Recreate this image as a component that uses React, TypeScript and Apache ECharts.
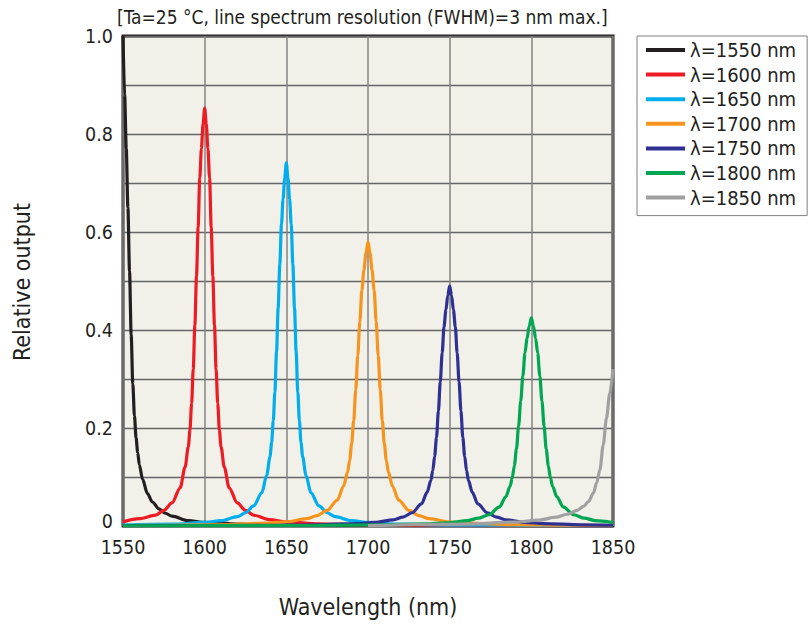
import React, { useEffect, useRef } from "react";
import * as echarts from "echarts";

const FONT = "'DejaVu Sans Condensed', 'DejaVu Sans', sans-serif";

const seriesNames = ["λ=1550 nm", "λ=1600 nm", "λ=1650 nm", "λ=1700 nm", "λ=1750 nm", "λ=1800 nm", "λ=1850 nm"];
const seriesColors = ["#231f20", "#ed1c24", "#00aeef", "#f7941d", "#2e3192", "#00a651", "#a0a0a0"];

const xTicks = [1550, 1600, 1650, 1700, 1750, 1800, 1850];

const line1550: [number, number][] = [
  [1550, 1.0], [1551, 0.88], [1552, 0.77], [1553, 0.65], [1554, 0.52], [1555, 0.39], [1556, 0.29],
  [1557, 0.225], [1558, 0.18], [1559, 0.15], [1560, 0.125], [1562, 0.095], [1565, 0.066], [1568, 0.049],
  [1572, 0.035], [1576, 0.026], [1580, 0.02], [1590, 0.011], [1600, 0.0075], [1620, 0.004], [1650, 0.002],
  [1700, 0.001], [1850, 0.0004],
];

const line1600: [number, number][] = [
  [1550, 0.0085], [1560, 0.015], [1570, 0.022], [1575, 0.032], [1580, 0.047], [1585, 0.078], [1588, 0.12],
  [1590, 0.162], [1591, 0.196], [1592, 0.25], [1593, 0.32], [1594, 0.41], [1595, 0.51], [1596, 0.61],
  [1597, 0.71], [1598, 0.77], [1599, 0.82], [1600, 0.853], [1601, 0.82], [1602, 0.77], [1603, 0.71],
  [1604, 0.61], [1605, 0.51], [1606, 0.41], [1607, 0.32], [1608, 0.25], [1609, 0.196], [1610, 0.162],
  [1612, 0.12], [1615, 0.078], [1620, 0.047], [1625, 0.032], [1630, 0.022], [1640, 0.013], [1650, 0.0085],
  [1670, 0.0043], [1700, 0.0021], [1750, 0.001], [1850, 0.0005],
];

const line1650: [number, number][] = [
  [1550, 0.0019], [1580, 0.0037], [1600, 0.0074], [1610, 0.011], [1620, 0.019], [1625, 0.027], [1630, 0.041],
  [1635, 0.068], [1638, 0.104], [1640, 0.141], [1641, 0.17], [1642, 0.215], [1643, 0.274], [1644, 0.356],
  [1645, 0.445], [1646, 0.534], [1647, 0.615], [1648, 0.667], [1649, 0.71], [1650, 0.741], [1651, 0.71],
  [1652, 0.667], [1653, 0.615], [1654, 0.534], [1655, 0.445], [1656, 0.356], [1657, 0.274], [1658, 0.215],
  [1659, 0.17], [1660, 0.141], [1662, 0.104], [1665, 0.068], [1670, 0.041], [1675, 0.027], [1680, 0.019],
  [1690, 0.011], [1700, 0.0074], [1720, 0.0037], [1750, 0.0019], [1850, 0.0005],
];

const line1700: [number, number][] = [
  [1550, 0.001], [1575, 0.0015], [1612.5, 0.0029], [1637.5, 0.0058], [1650, 0.0087], [1662.5, 0.015],
  [1668.75, 0.021], [1675, 0.032], [1681.25, 0.053], [1685, 0.081], [1687.5, 0.11], [1688.75, 0.133],
  [1690, 0.168], [1691.25, 0.215], [1692.5, 0.278], [1693.75, 0.348], [1695, 0.418], [1696.25, 0.481],
  [1697.5, 0.522], [1698.75, 0.557], [1700, 0.58], [1701.25, 0.557], [1702.5, 0.522], [1703.75, 0.481],
  [1705, 0.418], [1706.25, 0.348], [1707.5, 0.278], [1708.75, 0.215], [1710, 0.168], [1711.25, 0.133],
  [1712.5, 0.11], [1715, 0.081], [1718.75, 0.053], [1725, 0.032], [1731.25, 0.021], [1737.5, 0.015],
  [1750, 0.0087], [1762.5, 0.0058], [1787.5, 0.0029], [1825, 0.0015], [1850, 0.001],
];

const line1750: [number, number][] = [
  [1550, 0.0006], [1635, 0.0012], [1669.5, 0.0025], [1692.5, 0.0049], [1704, 0.0074], [1715.5, 0.0127],
  [1721.25, 0.018], [1727, 0.027], [1732.75, 0.045], [1736.2, 0.069], [1738.5, 0.093], [1739.65, 0.113],
  [1740.8, 0.142], [1741.95, 0.181], [1743.1, 0.235], [1744.25, 0.294], [1745.4, 0.353], [1746.55, 0.407],
  [1747.7, 0.441], [1748.85, 0.47], [1750, 0.49], [1751.15, 0.47], [1752.3, 0.441], [1753.45, 0.407],
  [1754.6, 0.353], [1755.75, 0.294], [1756.9, 0.235], [1758.05, 0.181], [1759.2, 0.142], [1760.35, 0.113],
  [1761.5, 0.093], [1763.8, 0.069], [1767.25, 0.045], [1773, 0.027], [1778.75, 0.018], [1784.5, 0.0127],
  [1796, 0.0074], [1807.5, 0.0049], [1830.5, 0.0025], [1850, 0.0015],
];

const line1800: [number, number][] = [
  [1550, 0.0004], [1670, 0.0011], [1709, 0.0021], [1735, 0.0043], [1748, 0.0064], [1761, 0.011],
  [1767.5, 0.016], [1774, 0.023], [1780.5, 0.039], [1784.4, 0.06], [1787, 0.081], [1788.3, 0.098],
  [1789.6, 0.123], [1790.9, 0.157], [1792.2, 0.204], [1793.5, 0.255], [1794.8, 0.306], [1796.1, 0.353],
  [1797.4, 0.383], [1798.7, 0.408], [1800, 0.425], [1801.3, 0.408], [1802.6, 0.383], [1803.9, 0.353],
  [1805.2, 0.306], [1806.5, 0.255], [1807.8, 0.204], [1809.1, 0.157], [1810.4, 0.123], [1811.7, 0.098],
  [1813, 0.081], [1815.6, 0.06], [1819.5, 0.039], [1826, 0.023], [1832.5, 0.016], [1839, 0.011], [1850, 0.007],
];

const line1850: [number, number][] = [
  [1700, 0.001], [1760, 0.004], [1790, 0.008], [1805, 0.012], [1815, 0.018], [1822, 0.024], [1828, 0.032],
  [1832, 0.04], [1835, 0.05], [1838, 0.067], [1840, 0.088], [1842, 0.115], [1844, 0.165], [1846, 0.22],
  [1848, 0.27], [1850, 0.32],
];

const allLines = [line1550, line1600, line1650, line1700, line1750, line1800, line1850];

const titleText = "[Ta=25 °C, line spectrum resolution (FWHM)=3 nm max.]";
const xAxisTitle = "Wavelength (nm)";
const yAxisTitle = "Relative output";

export default function App() {
  const ref = useRef<HTMLDivElement>(null);
  useEffect(() => {
    document.body.style.margin = "0";
    if (!ref.current) return;
    const chart = echarts.init(ref.current, undefined, { renderer: "svg" });
    chart.setOption({
      animation: false,
      backgroundColor: "#ffffff",
      textStyle: { fontFamily: FONT },
      title: {
        text: titleText,
        left: 117,
        top: 7,
        padding: 0,
        textStyle: { fontFamily: FONT, fontSize: 19, fontWeight: "normal", color: "#231f20" },
      },
      legend: {
        orient: "vertical",
        left: 637,
        top: 36,
        padding: [4, 11, 8, 9],
        itemWidth: 39,
        itemHeight: 4,
        itemGap: 4.6,
        itemTextGap: 5,
        icon: "rect",
        backgroundColor: "#ffffff",
        borderColor: "#808080",
        borderWidth: 1,
        borderRadius: 0,
        data: seriesNames,
        textStyle: { fontFamily: FONT, fontSize: 20, color: "#231f20", lineHeight: 20 },
      },
      grid: {
        left: 123,
        top: 36,
        width: 490,
        height: 490,
        show: true,
        backgroundColor: "#f1f0e9",
        borderColor: "#231f20",
        borderWidth: 3,
      },
      xAxis: {
        type: "value",
        min: 1550,
        max: 1850,
        interval: 50,
        axisLine: { show: false },
        axisTick: { show: false },
        axisLabel: {
          margin: 11,
          fontFamily: FONT,
          fontSize: 19.5,
          color: "#231f20",
          formatter: (v: number) => (xTicks.includes(v) ? String(v) : ""),
        },
        splitLine: { show: true, lineStyle: { color: "#858585", width: 1.5 } },
      },
      yAxis: {
        type: "value",
        min: 0,
        max: 1,
        interval: 0.1,
        axisLine: { show: false },
        axisTick: { show: false },
        axisLabel: {
          margin: 10,
          fontFamily: FONT,
          fontSize: 19.5,
          color: "#231f20",
          formatter: (v: number) => {
            const t = Math.round(v * 10);
            if (t === 0) return "{z|0}";
            if (t % 2 !== 0) return "";
            return (t / 10).toFixed(1);
          },
          rich: {
            z: {
              fontFamily: FONT,
              fontSize: 19.5,
              color: "#231f20",
              padding: [0, 0, 10, 0],
            },
          },
        },
        splitLine: { show: true, lineStyle: { color: "#666666", width: 1.3 } },
      },
      graphic: [
        {
          type: "text",
          x: 368,
          y: 607,
          style: {
            text: xAxisTitle,
            fontFamily: FONT,
            fontSize: 23,
            fill: "#231f20",
            align: "center",
            verticalAlign: "middle",
          },
        },
        {
          type: "text",
          x: 22,
          y: 282,
          rotation: Math.PI / 2,
          style: {
            text: yAxisTitle,
            fontFamily: FONT,
            fontSize: 23,
            fill: "#231f20",
            align: "center",
            verticalAlign: "middle",
          },
        },
      ],
      series: allLines.map((data, i) => ({
        name: seriesNames[i],
        type: "line",
        data,
        showSymbol: false,
        smooth: 0.3,
        smoothMonotone: "x",
        clip: true,
        lineStyle: { color: seriesColors[i], width: 3.2 },
        itemStyle: { color: seriesColors[i] },
        emphasis: { disabled: true },
      })),
    });
    return () => chart.dispose();
  }, []);
  return <div ref={ref} style={{ width: 808, height: 624 }} />;
}
